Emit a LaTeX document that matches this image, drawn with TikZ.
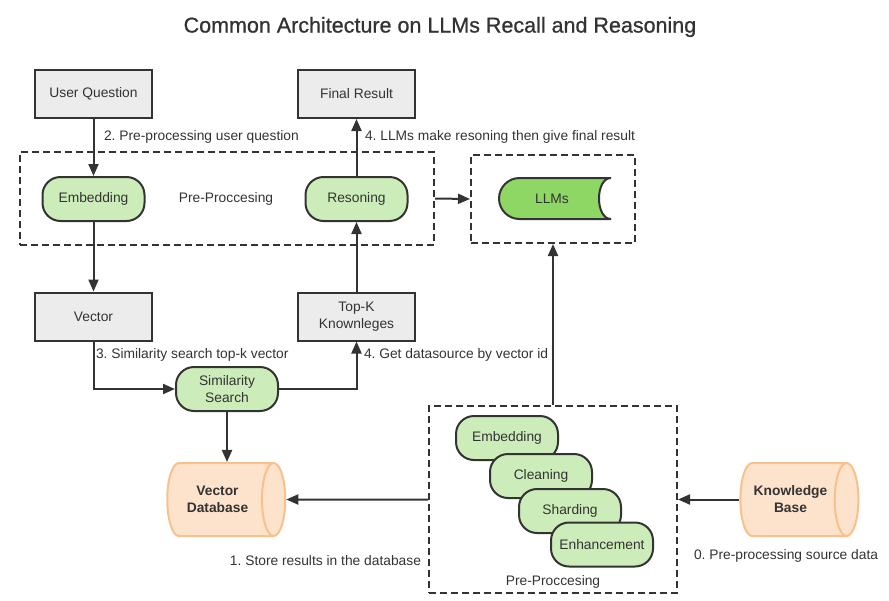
\documentclass[tikz,border=0pt]{standalone}
\usepackage{fontspec}
\setmainfont{Liberation Sans}
\usetikzlibrary{arrows.meta,shapes.geometric}

\definecolor{linedark}{HTML}{333333}
\definecolor{boxgray}{HTML}{EDECEC}
\definecolor{palegreen}{HTML}{CCEDB9}
\definecolor{llmgreen}{HTML}{8ED764}
\definecolor{dbfill}{HTML}{FEE3CC}
\definecolor{dbline}{HTML}{F8C08C}

\tikzset{%
  graybox/.style={draw=linedark,fill=boxgray,minimum width=117pt,minimum height=48pt,align=center,inner sep=2pt},%
  greenbox/.style={draw=linedark,fill=palegreen,rounded corners=18pt,minimum width=102pt,minimum height=44pt,align=center,inner sep=2pt},%
  dashbox/.style={draw=linedark,dash pattern=on 7pt off 4pt},%
  database/.style={cylinder,shape aspect=0.7,draw=dbline,fill=dbfill,minimum width=73pt,minimum height=118pt,align=center,font=\fontsize{13.8}{17}\selectfont\bfseries},%
  steplabel/.style={inner sep=0pt},%
}

\begin{document}
\frenchspacing
\begin{tikzpicture}[x=1pt,y=-1pt,line width=2pt,color=linedark,%
    font=\fontsize{13.8}{17}\selectfont,>={Triangle[length=12pt,width=10pt]}]
  \useasboundingbox (0,0) rectangle (889,600);
  %
  \node (title) at (440,27) {\fontsize{21.5}{24}\selectfont\addfontfeature{FakeBold=0.8}Common Architecture on LLMs Recall and Reasoning};
  %
  % query side
  \node[dashbox,minimum width=414pt,minimum height=93pt] (stage) at (227,198.5) {};%
  \node[graybox] (question) at (93.5,94) {User Question};%
  \node[graybox] (final) at (356.5,94) {Final Result};%
  \node[greenbox] (embed) at (93.5,199) {Embedding};%
  \node (prep) at (226,199) {Pre-Proccesing};%
  \node[greenbox] (reason) at (356.5,199) {Resoning};%
  \node[graybox] (vector) at (93.5,316.5) {Vector};%
  \node[graybox] (topk) at (356.5,316.5) {Top-K\\Knownleges};%
  \node[greenbox] (sim) at (227,389) {Similarity\\Search};%
  %
  % LLMs
  \node[dashbox,minimum width=164pt,minimum height=88pt] (llmbox) at (553,199) {};%
  \node[minimum width=112pt,minimum height=41pt,inner sep=0pt,outer sep=0pt] (llm) at (555,198.5) {};%
  \draw[fill=llmgreen] (llm.north east) -- ([xshift=20.5pt]llm.north west)%
    arc[start angle=90,end angle=270,radius=20.5pt] -- (llm.south east)%
    .. controls +(-16pt,0pt) and +(-16pt,0pt) .. (llm.north east) -- cycle;%
  \node (llmtext) at (552,198.5) {LLMs};%
  %
  % knowledge side
  \node[dashbox,minimum width=248pt,minimum height=187pt] (stack) at (553,499.5) {};%
  \node[greenbox] (embed2) at (507,438) {Embedding};%
  \node[greenbox] (clean) at (541,476) {Cleaning};%
  \node[greenbox] (shard) at (570,511) {Sharding};%
  \node[greenbox] (enhance) at (602,544.5) {Enhancement};%
  \node (prep2) at (553,582) {Pre-Proccesing};%
  \node[database] (vdb) at (217.5,499.5) {Vector\\Database};%
  \node[database] (kb) at (790.5,499.5) {Knowledge\\Base};%
  %
  % labels
  \node[steplabel,anchor=west] (lab2) at (103,137) {2. Pre-processing user question};%
  \node[steplabel,anchor=west] (lab4a) at (364,137) {4. LLMs make resoning then give final result};%
  \node[steplabel,anchor=west] (lab3) at (95,355) {3. Similarity search top-k vector};%
  \node[steplabel,anchor=west] (lab4b) at (363,355) {4. Get datasource by vector id};%
  \node[steplabel,anchor=east] (lab1) at (422,561) {1. Store results in the database};%
  \node[steplabel,anchor=west] (lab0) at (693,556) {0. Pre-processing source data};%
  %
  % connectors
  \draw[->] (question) -- (embed);%
  \draw[->] (reason) -- (final);%
  \draw[->] (embed) -- (vector);%
  \draw[->] (topk) -- (reason);%
  \draw[->] (vector.south) |- (sim.west);%
  \draw[->] (sim.east) -| (topk.south);%
  \draw[->] (sim.south) -- (sim.south |- vdb.north);%
  \draw[->] (stage.east) -- (llmbox.west);%
  \draw[->] (stack.north) -- (llmbox.south);%
  \draw[->] (stack.west) -- (vdb.east);%
  \draw[->] (kb.west) -- (stack.east);%
\end{tikzpicture}
\end{document}
